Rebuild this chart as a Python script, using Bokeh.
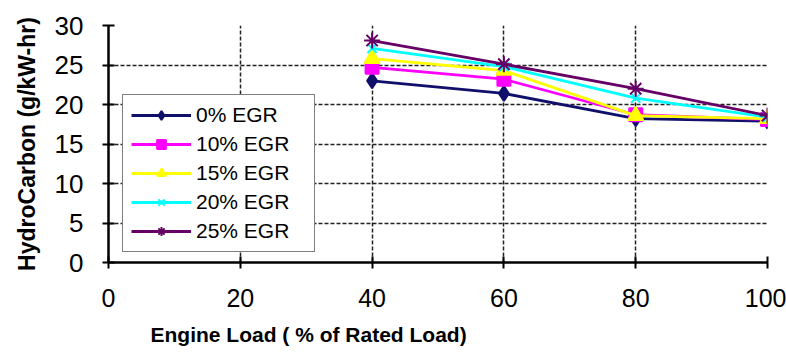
from bokeh.plotting import figure
from bokeh.models import Range1d, FixedTicker, Legend, Title
from bokeh.embed import file_html
from bokeh.resources import INLINE

loads = [40, 60, 80, 100]
egr_labels = ["0% EGR", "10% EGR", "15% EGR", "20% EGR", "25% EGR"]
hc_0 = [23.0, 21.4, 18.2, 17.9]
hc_10 = [24.7, 23.2, 18.7, 18.1]
hc_15 = [25.8, 24.3, 18.6, 18.2]
hc_20 = [27.1, 24.8, 20.8, 18.4]
hc_25 = [28.1, 25.1, 22.0, 18.6]
x_ticks = [0, 20, 40, 60, 80, 100]
y_ticks = [0, 5, 10, 15, 20, 25, 30]
x_title = "Engine Load ( % of Rated Load)"
y_title = "HydroCarbon (g/kW-hr)"

series = [hc_0, hc_10, hc_15, hc_20, hc_25]
colors = ["#10106a", "#ff00ff", "#ffff00", "#00ffff", "#660066"]
markers = ["diamond", "square", "triangle", "x", "asterisk"]
msizes = [15, 13, 15, 13, 16]

p = figure(width=786, height=357, output_backend="svg", toolbar_location=None,
           x_range=Range1d(0, 100), y_range=Range1d(0, 30),
           min_border_left=108, min_border_right=19, min_border_top=25, min_border_bottom=95)
p.outline_line_color = None
p.background_fill_color = "white"

FONT = "Liberation Sans"
for ax in (p.xaxis[0], p.yaxis[0]):
    ax.axis_line_color = "black"
    ax.axis_line_width = 2.5
    ax.major_tick_line_color = "black"
    ax.major_tick_line_width = 2
    ax.major_tick_in = 6
    ax.major_tick_out = 6
    ax.minor_tick_line_color = None
    ax.major_label_text_color = "black"
    ax.major_label_text_font = FONT
    ax.axis_label_text_font = FONT
    ax.axis_label_text_font_style = "bold"
    ax.axis_label_text_color = "black"

p.xaxis.ticker = FixedTicker(ticks=x_ticks)
p.yaxis.ticker = FixedTicker(ticks=y_ticks)
p.xaxis.major_label_text_font_size = "25px"
p.yaxis.major_label_text_font_size = "26px"
p.xaxis.major_label_standoff = 20
p.yaxis.major_label_standoff = 19
p.yaxis.axis_label = y_title
p.yaxis.axis_label_text_font_size = "23px"
p.yaxis.axis_label_standoff = 12

# x-axis title sits left of centre in the reference (cropped original)
xt = Title(text=x_title, align="left", offset=42, standoff=23, vertical_align="bottom",
           text_font=FONT, text_font_style="bold", text_font_size="21px", text_color="black")
p.add_layout(xt, "below")

for g in (p.xgrid[0], p.ygrid[0]):
    g.grid_line_color = "#222222"
    g.grid_line_width = 1.5
    g.grid_line_dash = "4 2"

items = []
for vals, col, mk, ms, lab in zip(series, colors, markers, msizes, egr_labels):
    r1 = p.line(loads, vals, line_color=col, line_width=2.8)
    r2 = p.scatter(loads, vals, marker=mk, size=ms, fill_color=col, line_color=col, line_width=2)
    items.append((lab, [r1, r2]))

legend = Legend(items=items, location=(14, 10))
legend.border_line_color = "black"
legend.border_line_width = 1.5
legend.background_fill_color = "white"
legend.background_fill_alpha = 1
legend.label_text_font = FONT
legend.label_text_font_size = "21px"
legend.label_text_color = "black"
legend.glyph_width = 60
legend.glyph_height = 22
legend.spacing = 5
legend.padding = 8
legend.margin = 0
legend.label_standoff = 5
legend.label_width = 110
p.add_layout(legend, "center")

open("out.html", "w").write(file_html(p, INLINE))
